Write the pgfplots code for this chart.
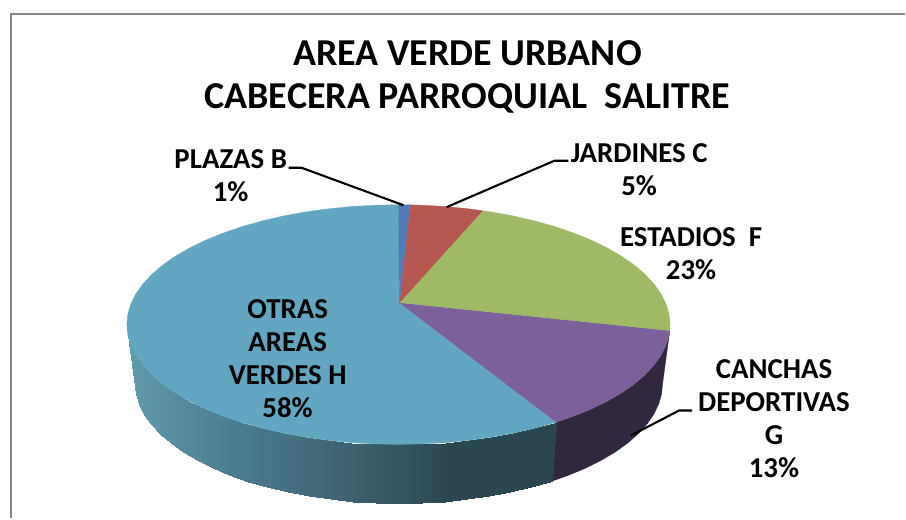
\documentclass[border=0pt]{standalone}
\usepackage{pgfplots}
\pgfplotsset{compat=1.18}
\usepackage{fontspec}
\setmainfont{Carlito}
\definecolor{cBlue}{HTML}{5579B8}
\definecolor{cRed}{HTML}{B65650}
\definecolor{cGreen}{HTML}{A0B966}
\definecolor{cPurple}{HTML}{7B6099}
\definecolor{cTeal}{HTML}{62A6C2}
\definecolor{cPurpleSide}{HTML}{31283F}
\definecolor{cFrame}{HTML}{868686}
\newcommand{\ttl}{\fontsize{38.2}{39}\selectfont\bfseries}
\newcommand{\lbl}{\fontsize{29}{30}\selectfont\bfseries}
\begin{document}
\begin{tikzpicture}
\begin{axis}[
  scale only axis, width=906bp, height=519bp,
  xmin=0, xmax=906, ymin=0, ymax=519, y dir=reverse,
  hide axis, clip=false,
  colormap={tealside}{rgb255=(98,155,175) rgb255=(75,124,144) rgb255=(62,100,115) rgb255=(43,71,81) rgb255=(42,70,80)},
  point meta min=127, point meta max=557,
]
\path (axis cs:0,0) rectangle (axis cs:906,519);
% frame
\addplot[cFrame, line width=2.4bp] coordinates {(11,519)(11,14)(906,14)};
% purple side
\addplot[fill=cPurpleSide, draw=cPurpleSide, line width=0.3bp] coordinates {
 (670.7,331)(670,335.5)(666.9,345.8)(661.7,356.1)(654.6,366)(645.5,375.7)(634.6,385)(621.8,393.8)(607.4,402.1)(591.3,409.9)(573.8,416.9)(557,422.7)
 (552.5,481.8)(558.4,479.8)(569.2,475.9)(586.2,468.9)(601.7,461.1)(615.8,452.8)(628.1,444)(638.8,434.7)(647.6,425)(654.5,415.1)(659.5,404.8)(662.5,394.5)(663.5,384)
} --cycle;
% teal side, shaded from left to right
\addplot[surf, shader=interp, mesh/rows=2, point meta=x] table {
557 422.7
555 423.3
535 428.9
514 433.8
492 437.8
469.4 440.9
446.2 443.2
422.7 444.5
399 445
375.3 444.5
351.8 443.2
328.6 440.9
306 437.8
284 433.8
263 428.9
243 423.3
224.2 416.9
206.7 409.9
190.6 402.1
176.2 393.8
163.4 385
152.5 375.7
143.4 366
136.3 356.1
131.1 345.8
128 335.5
127 325
552.5 481.8
550.9 482.3
531.5 487.9
511.1 492.8
489.8 496.8
467.8 499.9
445.3 502.2
422.5 503.5
399.5 504
376.5 503.5
353.7 502.2
331.2 499.9
309.2 496.8
287.9 492.8
267.5 487.9
248.1 482.3
229.8 475.9
212.8 468.9
197.3 461.1
183.2 452.8
170.9 444
160.2 434.7
151.4 425
144.5 415.1
139.5 404.8
136.5 394.5
135.5 384
};
% top faces
\addplot[fill=cTeal, draw=cTeal, line width=0.3bp] coordinates {
 (400,303)(557,422.7)(555,423.3)(535,428.9)(514,433.8)(492,437.8)(469.4,440.9)(446.2,443.2)(422.7,444.5)(399,445)
 (375.3,444.5)(351.8,443.2)(328.6,440.9)(306,437.8)(284,433.8)(263,428.9)(243,423.3)(224.2,416.9)(206.7,409.9)(190.6,402.1)(176.2,393.8)(163.4,385)(152.5,375.7)(143.4,366)(136.3,356.1)(131.1,345.8)(128,335.5)(127,325)
 (128,314.5)(131.1,304.2)(136.3,293.9)(143.4,284)(152.5,274.3)(163.4,265)(176.2,256.2)(190.6,247.9)(206.7,240.1)(224.2,233.1)(243,226.7)(263,221.1)(284,216.2)(306,212.2)(328.6,209.1)(351.8,206.8)(375.3,205.5)(399,205)
} --cycle;
\addplot[fill=cPurple, draw=cPurple, line width=0.3bp] coordinates {
 (400,303)(670.7,331)(670,335.5)(666.9,345.8)(661.7,356.1)(654.6,366)(645.5,375.7)(634.6,385)(621.8,393.8)(607.4,402.1)(591.3,409.9)(573.8,416.9)(557,422.7)
} --cycle;
\addplot[fill=cGreen, draw=cGreen, line width=0.3bp] coordinates {
 (400,303)(483,211)(492,212.2)(514,216.2)(535,221.1)(555,226.7)(573.8,233.1)(591.3,240.1)(607.4,247.9)(621.8,256.2)(634.6,265)(645.5,274.3)(654.6,284)(661.7,293.9)(666.9,304.2)(670,314.5)(671,325)(670.7,331)
} --cycle;
\addplot[fill=cRed, draw=cRed, line width=0.3bp] coordinates {
 (400,303)(410.5,205.1)(422.7,205.5)(446.2,206.8)(469.4,209.1)(483,211)
} --cycle;
\addplot[fill=cBlue, draw=cBlue, line width=0.3bp] coordinates {
 (400,303)(399,205)(410.5,205.1)
} --cycle;
% leader lines
\addplot[black, line width=2.1bp] coordinates {(289,168)(302,168)(404,205.5)};
\addplot[black, line width=2.1bp] coordinates {(569,161)(555,161)(447,207.5)};
\addplot[black, line width=2.1bp] coordinates {(693,411)(680,411)(632,436)};
% text
\tikzset{tx/.style={anchor=base, inner sep=0pt, text=black}}
\node[tx] at (axis cs:468,66) {\ttl AREA VERDE URBANO};
\node[tx] at (axis cs:468,109) {\ttl CABECERA PARROQUIAL\ \ SALITRE};
\node[tx] at (axis cs:231,169) {\lbl PLAZAS B};
\node[tx] at (axis cs:231,202) {\lbl 1\%};
\node[tx] at (axis cs:640,163) {\lbl JARDINES C};
\node[tx] at (axis cs:640,196) {\lbl 5\%};
\node[tx] at (axis cs:692,247) {\lbl ESTADIOS\ \ F};
\node[tx] at (axis cs:692,280) {\lbl 23\%};
\node[tx] at (axis cs:775,379) {\lbl CANCHAS};
\node[tx] at (axis cs:775,412) {\lbl DEPORTIVAS};
\node[tx] at (axis cs:775,445) {\lbl G};
\node[tx] at (axis cs:775,478) {\lbl 13\%};
\node[tx] at (axis cs:288,319) {\lbl OTRAS};
\node[tx] at (axis cs:288,352) {\lbl AREAS};
\node[tx] at (axis cs:288,385) {\lbl VERDES H};
\node[tx] at (axis cs:288,418) {\lbl 58\%};
\end{axis}
\end{tikzpicture}
\end{document}
